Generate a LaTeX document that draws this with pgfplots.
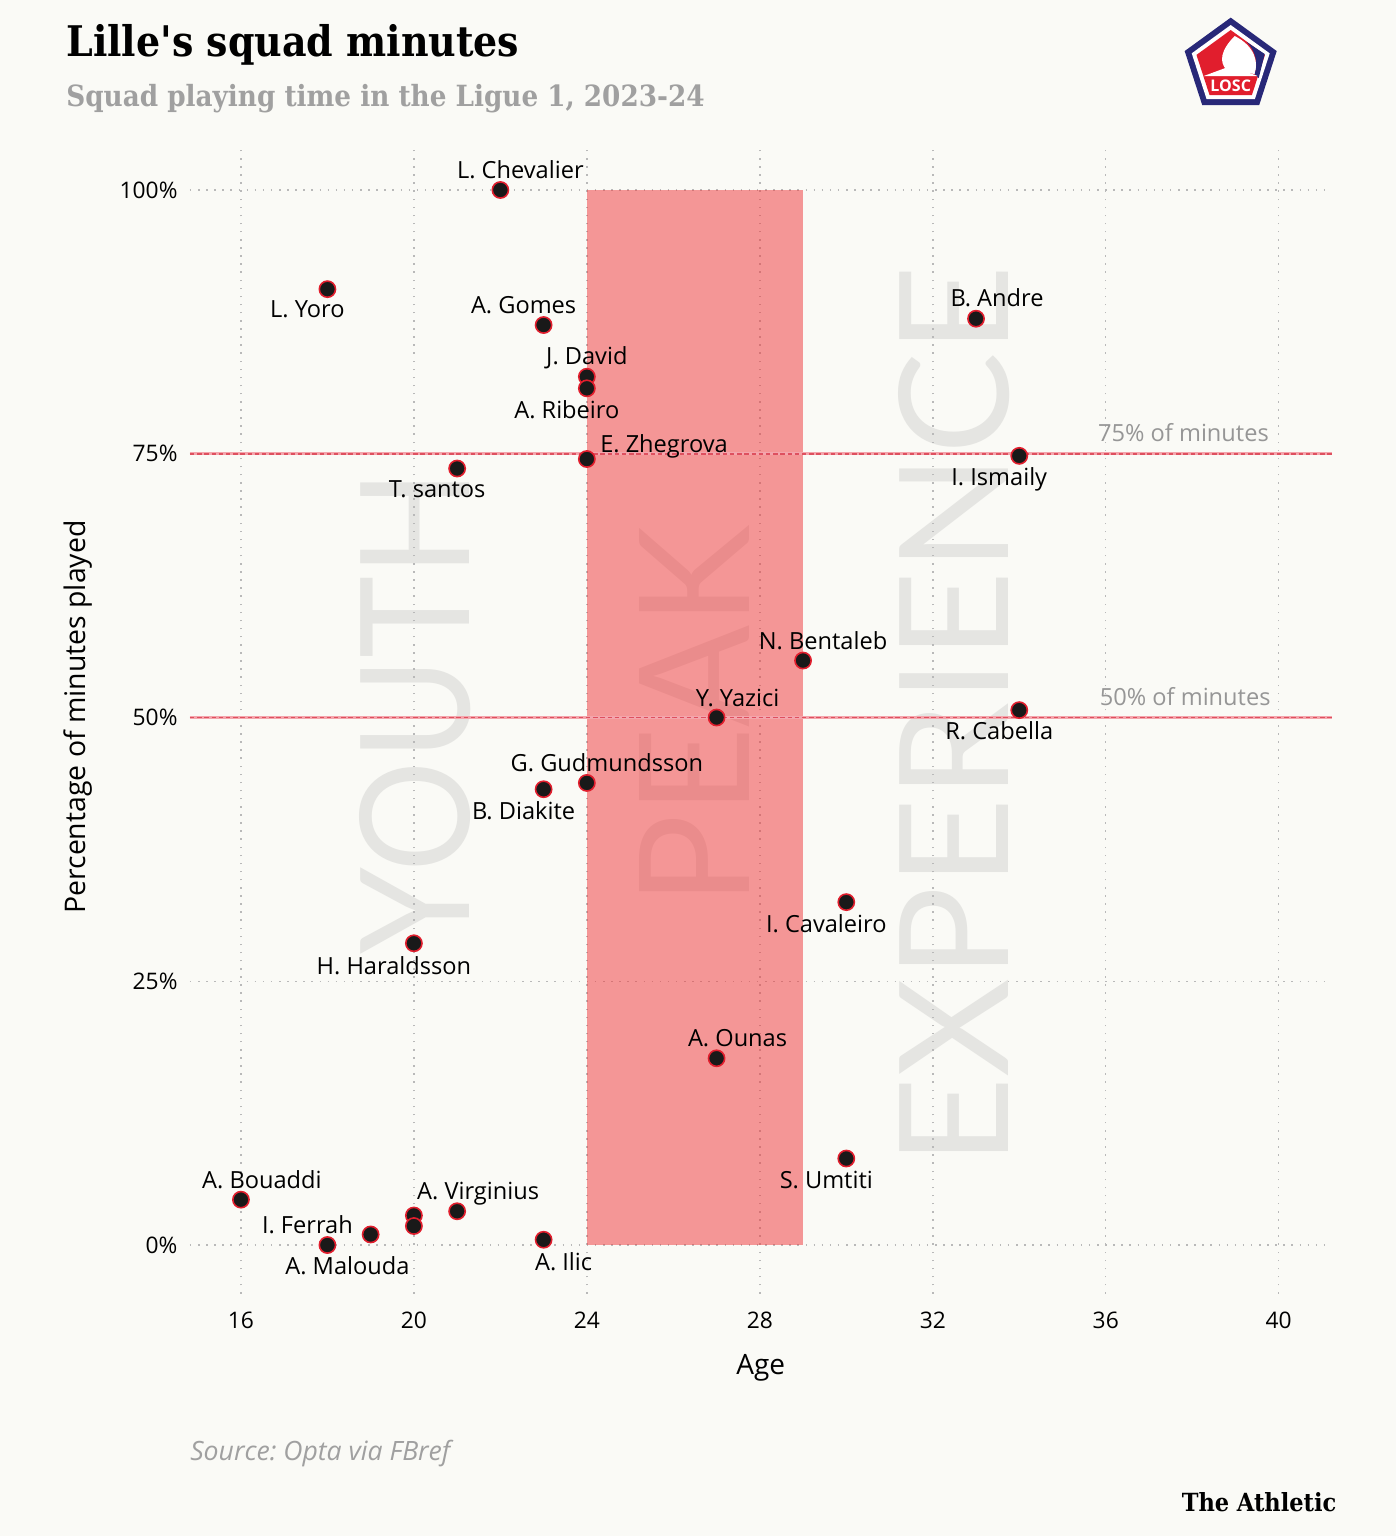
\documentclass[border=0pt]{standalone}
\usepackage{pgfplots}
\pgfplotsset{compat=1.18}
\usepackage{pgfplotstable}
\usepackage{fontspec}
\setmainfont{Open Sans}
\newfontfamily\titlefont{DejaVu Serif Condensed}
\newfontfamily\wmfont{Lato}
\definecolor{bg}{RGB}{250,250,246}
\definecolor{peak}{RGB}{240,52,55}
\definecolor{wm}{RGB}{229,229,226}
\definecolor{gridc}{RGB}{185,185,185}
\definecolor{subgray}{RGB}{160,160,160}
\definecolor{notegray}{RGB}{150,150,150}
\definecolor{navy}{RGB}{40,40,120}
\definecolor{losc}{RGB}{225,30,45}
\definecolor{dotc}{RGB}{25,25,25}
\definecolor{refpink}{RGB}{244,165,172}
\definecolor{refdash}{RGB}{222,80,95}

\pgfplotstableread{
age pct
22 100
18 90.6
23 87.2
24 82.3
24 81.2
24 74.5
21 73.6
33 87.8
34 74.8
29 55.4
27 50.0
34 50.7
24 43.8
23 43.2
30 32.5
20 28.6
27 17.7
30 8.2
16 4.3
21 3.2
20 2.8
20 1.8
19 1.0
18 0.0
23 0.5
}\players

\newcommand\labfont{\fontsize{11.8}{13}\selectfont}
\newcommand\lab[5]{\node[font=\labfont, text depth=0pt, inner sep=0pt, xshift=#3, yshift=#4] at (axis cs:#1,#2) {#5};}

\begin{document}
\frenchspacing
\begin{tikzpicture}
\begin{axis}[
  set layers,
  scale only axis, width=571pt, height=575pt,
  xmin=14.82, xmax=41.23, ymin=-4.6, ymax=104.4,
  xtick={16,20,...,40}, ytick={0,25,50,75,100},
  yticklabel={\pgfmathprintnumber{\tick}\%},
  grid=major,
  major grid style={gridc, line width=0.75pt, dash pattern=on 0.75pt off 3.3pt},
  axis line style={draw=none}, major tick length=0pt, tick style={draw=none},
  ticklabel style={font=\fontsize{11.4}{13}\selectfont, inner sep=0pt},
  /pgf/number format/assume math mode=true,
  yticklabel style={anchor=east, xshift=-6pt},
  xticklabel style={anchor=north, yshift=-9pt},
  clip=false,
]
\begin{pgfonlayer}{axis background}
\fill[bg] (axis cs:10.428,-27.58) rectangle (axis cs:42.705,118.01);
\node[rotate=90, text=wm, inner sep=0pt, font=\wmfont] at (axis cs:20.02,50.5) {\resizebox{242pt}{55pt}{YOUTH}};
\node[rotate=90, text=wm, inner sep=0pt, font=\wmfont] at (axis cs:26.5,50.2) {\resizebox{190pt}{55pt}{PEAK}};
\node[rotate=90, text=wm, inner sep=0pt, font=\wmfont] at (axis cs:32.5,50.2) {\resizebox{450pt}{55pt}{EXPERIENCE}};
\end{pgfonlayer}
\coordinate (bl) at (axis cs:10.428,-27.58);
\coordinate (tr) at (axis cs:42.705,118.01);

% peak band
\addplot[draw=none, fill=peak, fill opacity=0.5] coordinates {(24,0) (29,0) (29,100) (24,100)} -- cycle;

% reference lines
\addplot[refpink, line width=1.5pt, mark=none, solid] coordinates {(14.82,75) (41.23,75)};
\addplot[refpink, line width=1.5pt, mark=none, solid] coordinates {(14.82,50) (41.23,50)};
\addplot[refdash, line width=0.9pt, mark=none, dash pattern=on 2.2pt off 1.4pt] coordinates {(14.82,75) (41.23,75)};
\addplot[refdash, line width=0.9pt, mark=none, dash pattern=on 2.2pt off 1.4pt] coordinates {(14.82,50) (41.23,50)};
\node[anchor=east, text=notegray, font=\labfont, inner sep=0pt, text depth=0pt, yshift=10.5pt] at (axis cs:39.78,75) {75\% of minutes};
\node[anchor=east, text=notegray, font=\labfont, inner sep=0pt, text depth=0pt, yshift=10.5pt] at (axis cs:39.82,50) {50\% of minutes};

% players
\addplot[only marks, mark=*, mark size=4.05pt, mark options={fill=dotc, draw=losc, line width=0.8pt}] table[x=age, y=pct] {\players};

\lab{22}{100}{10pt}{10pt}{L. Chevalier}
\lab{18}{90.6}{-10pt}{-10pt}{L. Yoro}
\lab{23}{87.2}{-10pt}{10pt}{A. Gomes}
\lab{24}{82.3}{0pt}{10.5pt}{J. David}
\lab{24}{81.2}{-10pt}{-10.5pt}{A. Ribeiro}
\node[font=\labfont, text depth=0pt, inner sep=0pt, anchor=west, xshift=6.5pt, yshift=7.5pt] at (axis cs:24,74.5) {E. Zhegrova};
\lab{21}{73.6}{-10pt}{-10.5pt}{T. santos}
\lab{33}{87.8}{10.5pt}{10.5pt}{B. Andre}
\lab{34}{74.8}{-10pt}{-10.5pt}{I. Ismaily}
\lab{29}{55.4}{10pt}{10pt}{N. Bentaleb}
\lab{27}{50.0}{10.5pt}{10pt}{Y. Yazici}
\lab{34}{50.7}{-10pt}{-10pt}{R. Cabella}
\lab{24}{43.8}{10pt}{10pt}{G. Gudmundsson}
\lab{23}{43.2}{-10pt}{-10.5pt}{B. Diakite}
\lab{30}{32.5}{-10pt}{-10.5pt}{I. Cavaleiro}
\lab{20}{28.6}{-10pt}{-11pt}{H. Haraldsson}
\lab{27}{17.7}{10.5pt}{10pt}{A. Ounas}
\lab{30}{8.2}{-10pt}{-10.5pt}{S. Umtiti}
\lab{16}{4.3}{10.5pt}{10pt}{A. Bouaddi}
\lab{21}{3.2}{10.5pt}{10pt}{A. Virginius}
\lab{18}{0.0}{-10pt}{10pt}{I. Ferrah}
\lab{18}{0.0}{10pt}{-10.5pt}{A. Malouda}
\lab{23}{0.5}{10pt}{-11pt}{A. Ilic}

% axis titles
\node[rotate=90, font=\fontsize{14.2}{16}\selectfont, inner sep=0pt] at (axis cs:12.231,50.05) {Percentage of minutes played};
\node[font=\fontsize{14}{16}\selectfont, inner sep=0pt] at (axis cs:28.02,-11.66) {Age};

% titles
\node[anchor=base west, inner sep=0pt, font=\titlefont\bfseries\fontsize{21.1}{25}\selectfont] at (axis cs:11.954,112.61) {Lille\textquotesingle s squad minutes};
\node[anchor=base west, inner sep=0pt, text=subgray, font=\titlefont\bfseries\fontsize{14.6}{18}\selectfont] at (axis cs:11.954,107.87) {Squad playing time in the Ligue 1, 2023-24};
\node[anchor=base west, inner sep=0pt, text=subgray, font=\itshape\fontsize{13.3}{15}\selectfont] at (axis cs:14.82,-20.38) {Source: Opta via FBref};
\node[anchor=base east, inner sep=0pt, font=\titlefont\bfseries\fontsize{12.5}{15}\selectfont] at (axis cs:41.34,-25.3) {The Athletic};

% logo
\coordinate (logo) at (axis cs:38.89,111.75);
\end{axis}
\begin{scope}[shift={(logo)}]
  \fill[navy] (90:24.2pt) -- (162:24.2pt) -- (234:24.2pt) -- (306:24.2pt) -- (18:24.2pt) -- cycle;
  \fill[white] (90:20.5pt) -- (162:20.5pt) -- (234:20.5pt) -- (306:20.5pt) -- (18:20.5pt) -- cycle;
  \fill[losc] (90:18pt) -- (162:18pt) -- (234:18pt) -- (306:18pt) -- (18:18pt) -- cycle;
  \fill[white] (2pt,15pt) .. controls (12pt,10pt) and (14pt,2pt) .. (12pt,-4pt) -- (-2pt,-2pt) .. controls (-6pt,2pt) and (-5pt,8pt) .. (2pt,15pt) -- cycle;
  \fill[navy] (8pt,12pt) -- (17pt,6pt) -- (14pt,-6pt) -- (12pt,-4pt) .. controls (14pt,2pt) and (12pt,8pt) .. (8pt,12pt) -- cycle;
  \fill[white] (-13.5pt,-5pt) -- (0pt,0pt) -- (13.5pt,-5pt) -- cycle;
  \node[text=white, font=\bfseries\fontsize{8}{9}\selectfont, inner sep=0pt] at (0,-10pt) {LOSC};
\end{scope}
\pgfresetboundingbox
\path (bl) rectangle (tr);
\end{tikzpicture}
\end{document}
